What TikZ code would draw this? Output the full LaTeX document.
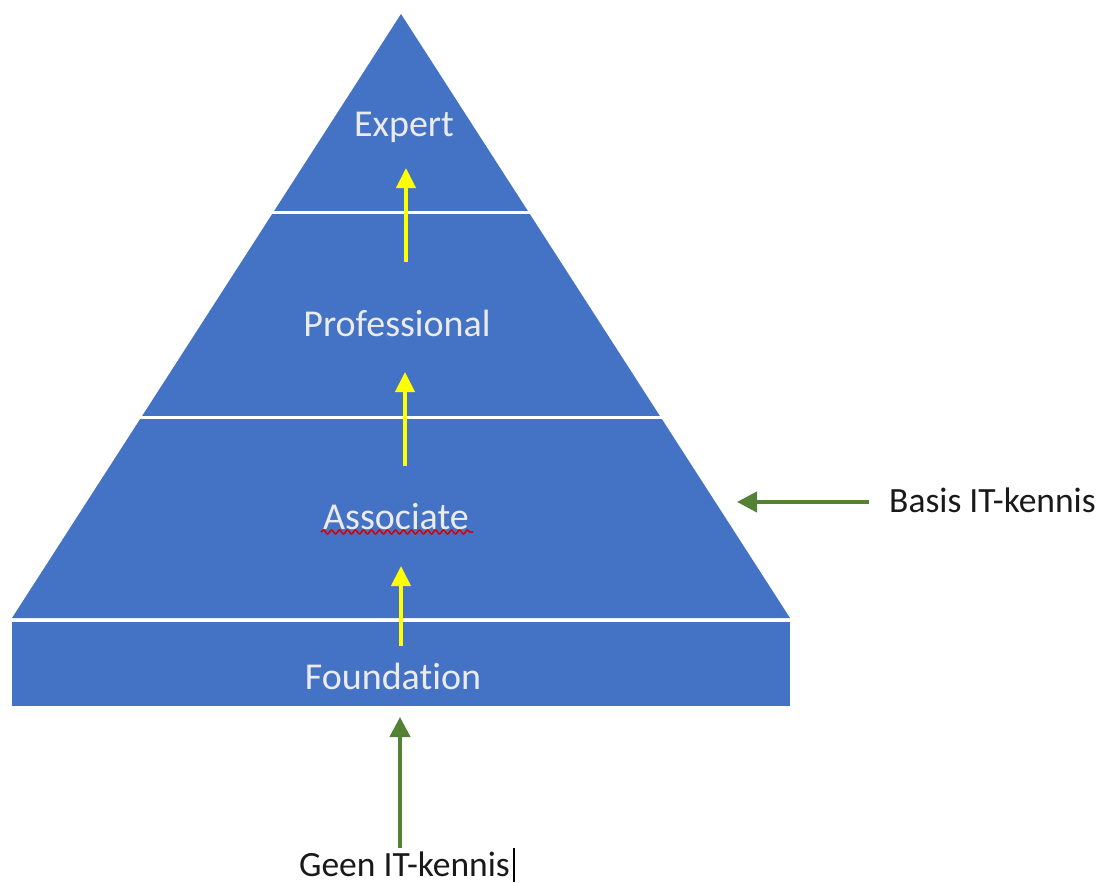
\documentclass[tikz,border=0pt]{standalone}
\usepackage{fontspec}
\setmainfont{Carlito}[RawFeature={-liga}]
\usetikzlibrary{arrows.meta,decorations.pathmorphing}
\definecolor{pyrblue}{HTML}{4472C4}
\definecolor{pyrtext}{HTML}{EBEBEB}
\definecolor{arrgreen}{HTML}{548235}
\definecolor{arryellow}{HTML}{FFFF00}
\tikzset{
  layerlabel/.style={text=pyrtext,font=\fontsize{38}{44}\selectfont,inner sep=0pt,anchor=center},
  sidelabel/.style={text=black!90,font=\fontsize{35.5}{42}\selectfont,inner sep=0pt},
  uparrow/.style={draw=arryellow,line width=4pt,-{Triangle[width=19pt,length=20pt]}},
  greenarrow/.style={draw=arrgreen,line width=4pt,-{Triangle[width=20pt,length=20pt]}},
  sepline/.style={draw=white,line width=3.5pt}
}
\begin{document}
\begin{tikzpicture}[x=1pt,y=-1pt]
\useasboundingbox (0,0) rectangle (1104,883);
\fill[white] (0,0) rectangle (1104,883);
% pyramid
\fill[pyrblue] (401,14) -- (790,618) -- (12,618) -- cycle;
\fill[pyrblue] (12,622) rectangle (790,706);
\draw[sepline] (250,212.5) -- (560,212.5);
\draw[sepline] (120,417.5) -- (690,417.5);
% labels
\node[layerlabel] (expert) at (404,127) {Expert};
\node[layerlabel] (prof) at (397,323) {Professional};
\node[layerlabel] (assoc) at (396,517) {Associate};
\node[layerlabel] (found) at (393,676) {Foundation};
\node[sidelabel,anchor=west] (basis) at (889,500) {Basis IT-kennis};
\node[sidelabel,anchor=base,text depth=0pt] (geen) at (404.5,876) {Geen IT-kennis};
% spell-check squiggle
\draw[red!85!black,line width=1.5pt,decorate,decoration={snake,amplitude=2pt,segment length=8pt}] (321,532) -- (473,532);
% text cursor
\draw[black,line width=1.2pt] (514,848) -- (514,882);
% yellow arrows
\coordinate (y1s) at (406,262); \coordinate (y1e) at (406,168);
\coordinate (y2s) at (405,466); \coordinate (y2e) at (405,372);
\coordinate (y3s) at (401,646); \coordinate (y3e) at (401,566);
\draw[uparrow] (y1s) -- (y1e);
\draw[uparrow] (y2s) -- (y2e);
\draw[uparrow] (y3s) -- (y3e);
% green arrows
\coordinate (g1s) at (400,848); \coordinate (g1e) at (400,717);
\coordinate (g2s) at (869,502); \coordinate (g2e) at (737,502);
\draw[greenarrow] (g1s) -- (g1e);
\draw[greenarrow] (g2s) -- (g2e);
\end{tikzpicture}
\end{document}
